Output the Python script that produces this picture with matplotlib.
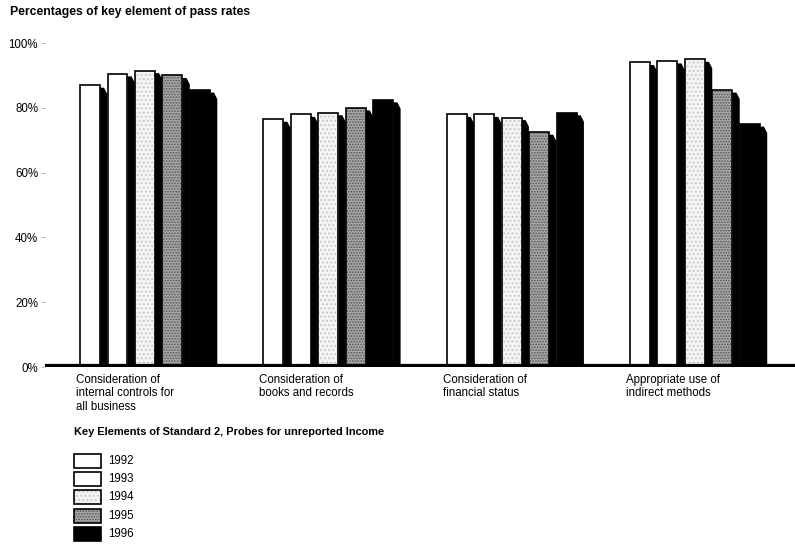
import matplotlib
matplotlib.use("Agg")
import matplotlib.pyplot as plt
from matplotlib.patches import Rectangle

plt.rcParams['font.family'] = ['Liberation Sans', 'DejaVu Sans']
plt.rcParams['hatch.linewidth'] = 0.8

# data
categories = ["Consideration of\ninternal controls for\nall business",
              "Consideration of\nbooks and records",
              "Consideration of\nfinancial status",
              "Appropriate use of\nindirect methods"]
years = ["1992", "1993", "1994", "1995", "1996"]
y1992 = [87.0, 76.5, 78.0, 94.0]
y1993 = [90.5, 78.0, 78.0, 94.5]
y1994 = [91.5, 78.5, 77.0, 95.0]
y1995 = [90.0, 80.0, 72.5, 85.5]
y1996 = [85.5, 82.5, 78.5, 75.0]
series = [y1992, y1993, y1994, y1995, y1996]
yticks = [0, 20, 40, 60, 80, 100]
ytick_labels = ["0%", "20%", "40%", "60%", "80%", "100%"]

# styles: (face, hatch, hatch colour)
styles = [("white", None, None),
          ("white", None, None),
          ("#f4f4f4", "....", "#c4c4c4"),
          ("#a6a6a6", "......", "#555555"),
          ("black", None, None)]

W, H = 795, 544
fig = plt.figure(figsize=(W / 100, H / 100), dpi=100)

def fx(px):
    return px / W

def fy(py):
    return 1 - py / H

ax = fig.add_axes([fx(45), fy(367), fx(795) - fx(45), fy(43) - fy(367)])
ax.set_xlim(-0.5455, 3.546)
ax.set_ylim(0, 100)

pitch = 0.15
width = 0.109
shadow = 0.04

for j, vals in enumerate(series):
    face, hatch, hcol = styles[j]
    xs = [g + (j - 2) * pitch for g in range(len(categories))]
    # drop shadow to the right of each bar
    for x, v in zip(xs, vals):
        xr = x + width / 2
        ax.fill([xr, xr, xr + shadow * 0.55, xr + shadow, xr + shadow],
                [0, v - 0.8, v - 0.8, v - 2.8, 0], color="black", lw=0, zorder=1)
    if hatch:
        ax.bar(xs, vals, width=width, color=face, hatch=hatch,
               edgecolor=hcol, linewidth=0, zorder=2)
        ax.bar(xs, vals, width=width, fill=False, edgecolor="black",
               linewidth=1.2, zorder=3)
    else:
        ax.bar(xs, vals, width=width, color=face, edgecolor="black",
               linewidth=1.2, zorder=2)

ax.axhline(0, color="black", lw=4.5, zorder=4, solid_capstyle="butt")

for s in ax.spines.values():
    s.set_visible(False)
ax.set_xticks([])
ax.set_yticks(yticks)
ax.set_yticklabels(ytick_labels, fontsize=8.3)
ax.tick_params(axis="y", length=3, width=0.5, color="#999999", pad=2)

fig.text(fx(10), fy(12), "Percentages of key element of pass rates",
         fontsize=8.8, fontweight="bold", va="center", ha="left")

for i, lab in enumerate(categories):
    fig.text(fx(76 + i * 183.3), fy(374), lab, fontsize=8.3, va="top",
             ha="left", linespacing=1.15)

fig.text(fx(74), fy(432), "Key Elements of Standard 2, Probes for unreported Income",
         fontsize=7.9, fontweight="bold", va="center", ha="left")

for j, yr in enumerate(years):
    face, hatch, hcol = styles[j]
    top = 454 + j * 18.2
    x0, y0 = fx(74), fy(top + 14)
    w, h = fx(101) - fx(74), fy(top) - fy(top + 14)
    if hatch:
        fig.patches.append(Rectangle((x0, y0), w, h, transform=fig.transFigure,
                                     facecolor=face, hatch=hatch, edgecolor=hcol, lw=0))
    fig.patches.append(Rectangle((x0, y0), w, h, transform=fig.transFigure,
                                 facecolor=face if not hatch else "none",
                                 edgecolor="black", lw=1.2))
    fig.text(fx(108), fy(top + 7), yr, fontsize=8.3, va="center", ha="left")

fig.savefig("out.png", dpi=100)
